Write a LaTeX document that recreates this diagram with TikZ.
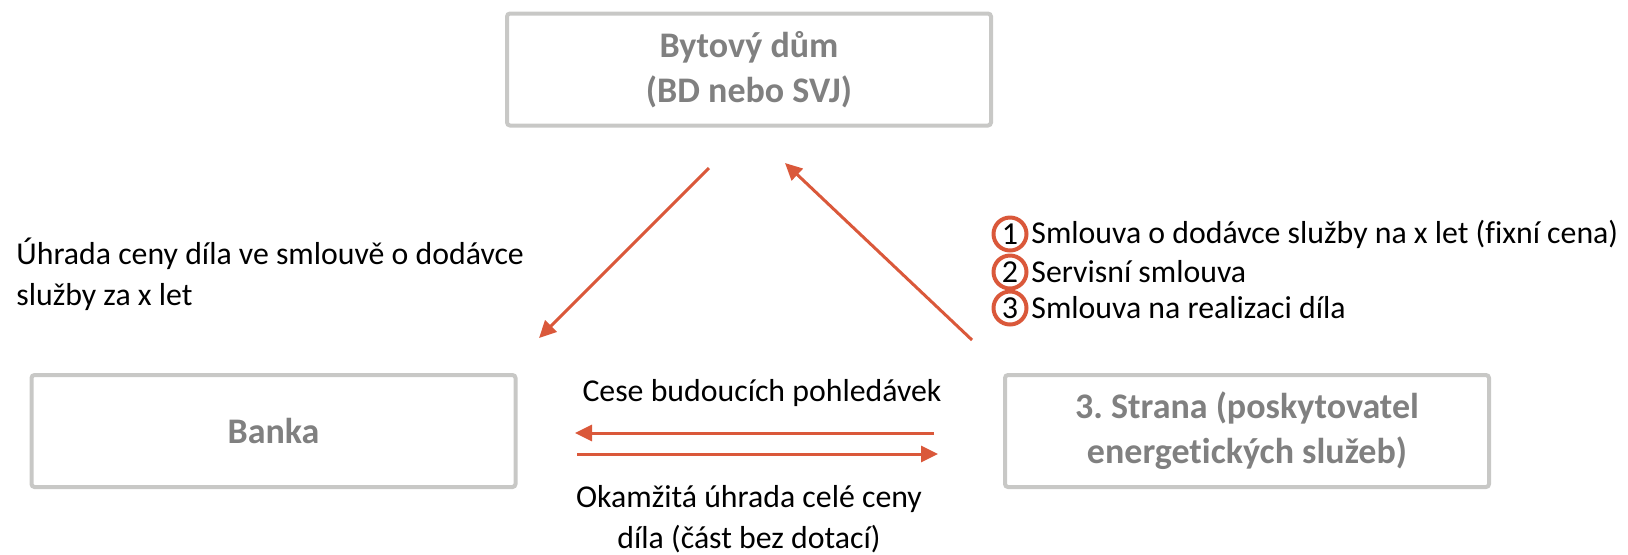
\documentclass[tikz,border=0pt]{standalone}
\usepackage{fontspec}
\setmainfont{Carlito}[Ligatures=NoCommon]
\usetikzlibrary{arrows.meta}
\definecolor{boxgray}{RGB}{200,200,198}
\definecolor{namegray}{RGB}{128,128,128}
\definecolor{flowred}{RGB}{218,88,58}
\tikzset{
    party/.style={draw=boxgray,line width=2pt,rounded corners=1.5pt,minimum width=242pt,minimum height=56pt,inner sep=0pt,align=center,text=namegray,font=\fontsize{18}{22.5}\selectfont\bfseries},
    flow/.style={draw=flowred,line width=1.5pt,-{Triangle[length=8.5pt,width=8pt]}},
    note/.style={inner sep=0pt,font=\fontsize{15.9}{20.5}\selectfont},
    badge/.style={circle,draw=flowred,line width=2pt,minimum size=16.5pt,inner sep=0pt,font=\fontsize{16}{16}\selectfont}
}
\frenchspacing
\begin{document}
\begin{tikzpicture}[x=0.5pt,y=-0.5pt]
    \useasboundingbox (0,0) rectangle (1628,554);
    \node[party] (house) at (749,69.5) {Bytový dům\\(BD nebo SVJ)};
    \node[party] (bank) at (273.5,431) {Banka};
    \node[party] (provider) at (1247,431) {3. Strana (poskytovatel\\energetických služeb)};

    \coordinate (payfrom) at (709,168);
    \coordinate (payto) at (539,338);
    \coordinate (contractfrom) at (972,340);
    \coordinate (contractto) at (785,163);
    \coordinate (cessionfrom) at (934,433);
    \coordinate (cessionto) at (575,433);
    \coordinate (fundfrom) at (577,454);
    \coordinate (fundto) at (938,454);

    \draw[flow] (payfrom) -- (payto);
    \draw[flow] (contractfrom) -- (contractto);
    \draw[flow] (cessionfrom) -- (cessionto);
    \draw[flow] (fundfrom) -- (fundto);

    \node[note,anchor=west,align=left] (paynote) at (16,274) {Úhrada ceny díla ve smlouvě o dodávce\\služby za x let};
    \node[note] (cessionnote) at (762,393) {Cese budoucích pohledávek};
    \node[note,align=center] (fundnote) at (749,519) {Okamžitá úhrada celé ceny\\díla (část bez dotací)};

    \node[badge] (badge1) at (1010,234) {1};
    \node[badge] (badge2) at (1010,272) {2};
    \node[badge] (badge3) at (1010,308) {3};
    \node[note,anchor=west] (contract1) at (1031,234) {Smlouva o dodávce služby na x let (fixní cena)};
    \node[note,anchor=west] (contract2) at (1031,272) {Servisní smlouva};
    \node[note,anchor=west] (contract3) at (1031,308) {Smlouva na realizaci díla};
\end{tikzpicture}
\end{document}
